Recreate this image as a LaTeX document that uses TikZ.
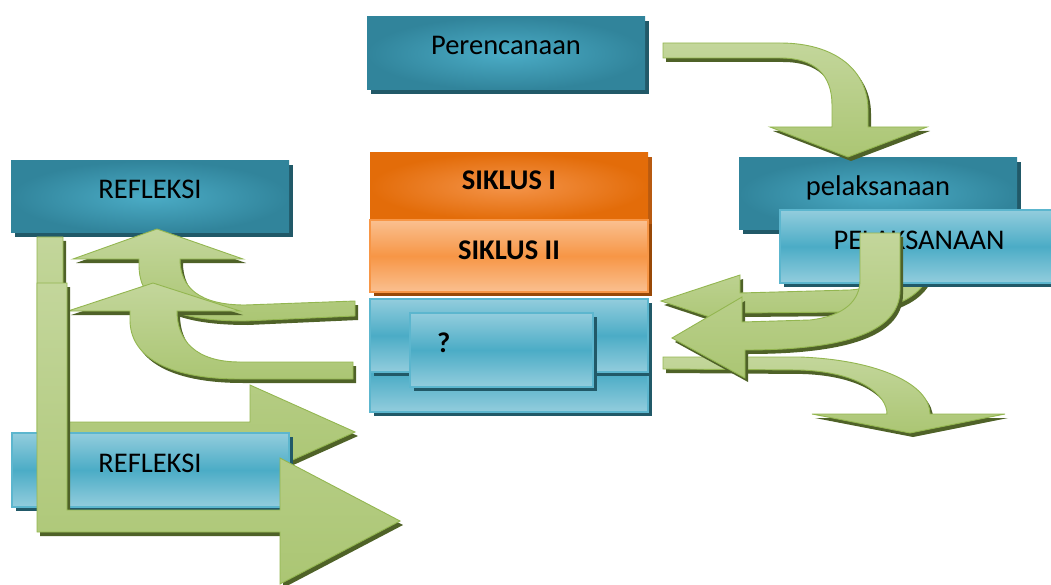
\documentclass[tikz,border=0pt]{standalone}
\usepackage{fontspec}
\setmainfont{Carlito}
\usetikzlibrary{shadows}
\definecolor{tealC}{HTML}{4BACC6}
\definecolor{tealE}{HTML}{31849B}
\definecolor{tealSh}{HTML}{215968}
\definecolor{lbL}{HTML}{93CDDD}
\definecolor{lbM}{HTML}{4BACC6}
\definecolor{lbLine}{HTML}{5CB6CE}
\definecolor{oC}{HTML}{F4944A}
\definecolor{oE}{HTML}{E36C09}
\definecolor{oSh}{HTML}{B85A10}
\definecolor{o2L}{HTML}{FAC090}
\definecolor{o2M}{HTML}{F79646}
\definecolor{o2Sh}{HTML}{984807}
\definecolor{gLight}{HTML}{C3D69B}
\definecolor{gDark}{HTML}{9BBB59}
\definecolor{gLine}{HTML}{93B650}
\definecolor{gShadow}{HTML}{4F6228}
\begin{document}
\begin{tikzpicture}[x=1pt,y=-1pt,
  tealbox/.style={inner color=tealC, outer color=tealE, inner sep=0pt,
    drop shadow={shadow xshift=4pt,shadow yshift=-4pt,fill=tealSh,opacity=1}},
  lbbox/.style={draw=lbLine, line width=1.2pt, top color=lbL, bottom color=lbL, middle color=lbM, inner sep=0pt,
    drop shadow={shadow xshift=4pt,shadow yshift=-4pt,fill=tealSh,opacity=1}},
  o1box/.style={inner color=oC, outer color=oE, inner sep=0pt,
    drop shadow={shadow xshift=4pt,shadow yshift=-4pt,fill=oSh,opacity=1}},
  o2box/.style={draw=o2M, line width=1.2pt, top color=o2L, bottom color=o2L, middle color=o2M, inner sep=0pt,
    drop shadow={shadow xshift=4pt,shadow yshift=-4pt,fill=o2Sh,opacity=1}},
  garrow/.style={draw=gLine, line width=0.9pt, line join=miter, top color=gLight, bottom color=gDark!60!gLight,
    drop shadow={shadow xshift=3pt,shadow yshift=-4pt,fill=gShadow,opacity=1}},
  lbl/.style={anchor=base, inner sep=0pt, font=\fontsize{28.5}{30}\selectfont}
]
\useasboundingbox (0,0) rectangle (1051,585);
\clip (0,0) rectangle (1051,585);

% ---------- left group ----------
\node[tealbox, minimum width=278pt, minimum height=72pt] (refTop) at (150,197) {};
\node[lbl] (tRef1) at (150,199) {REFLEKSI};

% L1 bent arrow
\path[garrow] (37,237) -- (63,237) -- (63,422) -- (250,422) -- (250,385) -- (355,432)
  -- (250,479) -- (250,446) -- (37,446) -- cycle;

% B1 upper curved up-arrow
\path[garrow] (157,229) -- (243,259) -- (180,259) .. controls (180,288) and (200,305) .. (245,305)
  -- (355,301) -- (355,316) -- (245,321) .. controls (165,321) and (139,300) .. (139,265)
  -- (139,259) -- (73,259) -- cycle;

% B2 lower curved up-arrow
\path[garrow] (153,283) -- (240,311) -- (177,311) .. controls (177,340) and (195,362) .. (240,362)
  -- (353,362) -- (353,379) -- (240,379) .. controls (165,379) and (130,355) .. (130,320)
  -- (130,311) -- (68,311) -- cycle;

\node[lbbox, minimum width=277pt, minimum height=74pt] (refBot) at (150.5,470) {};
\node[lbl] (tRef2) at (150,472) {REFLEKSI};

% L2 bent arrow
\path[garrow] (37,283) -- (67,283) -- (67,510) -- (280,510) -- (280,458) -- (400,521)
  -- (280,584) -- (280,532) -- (37,532) -- cycle;

% ---------- middle group ----------
\node[o1box, minimum width=278pt, minimum height=67pt] (sik1) at (509,186.5) {};
\node[lbl, font=\fontsize{28.5}{30}\selectfont\bfseries] (tS1) at (509,190) {SIKLUS I};
\node[o2box, minimum width=278pt, minimum height=72pt] (sik2) at (509,256) {};
\node[lbl, font=\fontsize{28.5}{30}\selectfont\bfseries] (tS2) at (509,259) {SIKLUS II};
\node[lbbox, minimum width=278pt, minimum height=77pt] (blueB) at (509,373.5) {};
\node[lbbox, minimum width=278pt, minimum height=73pt] (blueA) at (509,335.5) {};
\node[lbbox, minimum width=183pt, minimum height=74pt] (qbox) at (501.5,350) {};
\node[lbl, anchor=base west, font=\fontsize{28.5}{30}\selectfont\bfseries] (tQ) at (437,352) {?};

% ---------- right group ----------
\node[tealbox, minimum width=278pt, minimum height=73pt] (plan) at (506,53.5) {};
\node[lbl] (tPlan) at (506,55) {Perencanaan};
\node[tealbox, minimum width=278pt, minimum height=72pt] (pel1) at (878,194) {};
\node[lbl] (tPel1) at (878,196) {pelaksanaan};

% A: top curved arrow
\path[garrow] (663,43) -- (780,43) .. controls (835,43) and (868,70) .. (868,110) -- (868,127)
  -- (927,127) -- (848,157) -- (770,127) -- (832,127) -- (832,105)
  .. controls (832,75) and (815,58) .. (780,58) -- (663,58) -- cycle;

% D1: arrow behind the PELAKSANAAN box
\path[garrow] (661,301) -- (740,275) -- (740,293) -- (850,290) .. controls (880,288) and (893,275) .. (893,255)
  -- (933,255) .. controls (933,292) and (900,311) .. (850,312) -- (740,313) -- (740,327) -- cycle;

\node[lbbox, minimum width=278pt, minimum height=73pt] (pel2) at (919,246.5) {};
\node[lbl] (tPel2) at (919,250) {PELAKSANAAN};

% D3: bottom-right down arrow
\path[garrow] (663,357) -- (800,357) .. controls (880,360) and (930,385) .. (930,414) -- (1005,414)
  -- (910,433) -- (812,414) -- (887,414) .. controls (887,395) and (860,372) .. (800,370)
  -- (663,369) -- cycle;

% D2: arrow from PELAKSANAAN down and left
\path[garrow] (860,233) -- (900,233) -- (900,290) .. controls (900,330) and (850,350) .. (745,350)
  -- (745,378) -- (672,338) -- (742,297) -- (742,322) -- (810,320)
  .. controls (845,316) and (860,300) .. (860,280) -- cycle;
\end{tikzpicture}
\end{document}
